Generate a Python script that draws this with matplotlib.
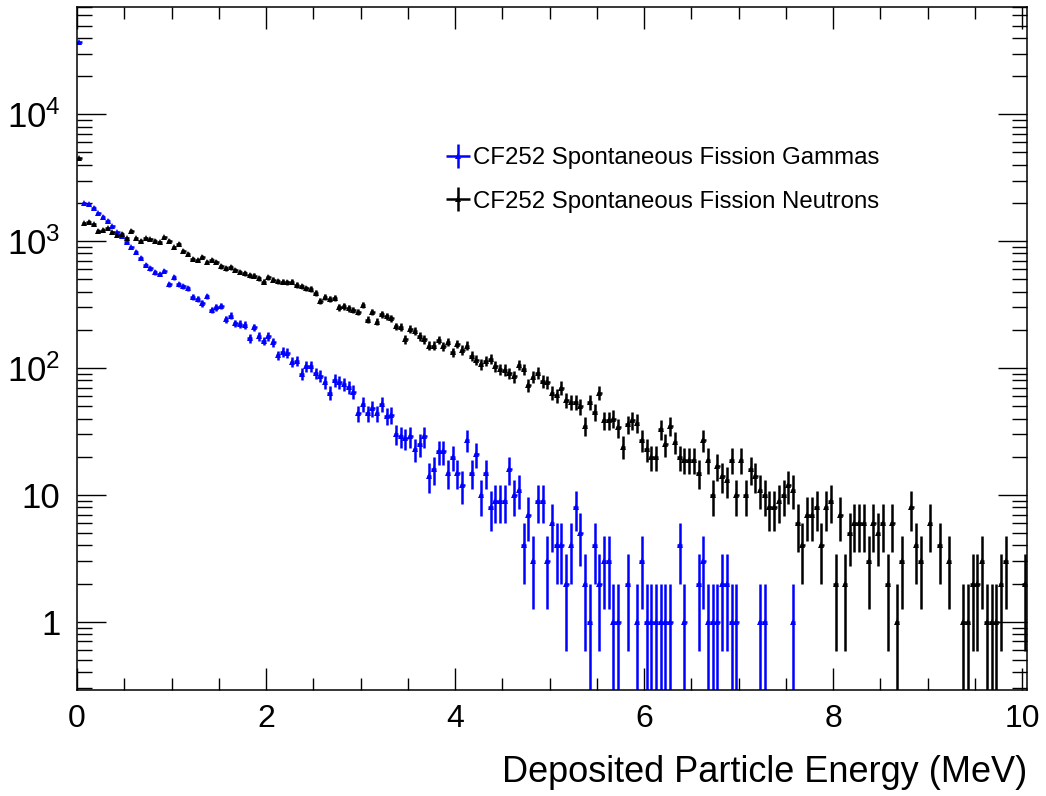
import numpy as np
import matplotlib
matplotlib.use("Agg")
import matplotlib.pyplot as plt
from matplotlib.ticker import FixedLocator, MultipleLocator, LogLocator, NullFormatter, FuncFormatter

plt.rcParams["font.family"] = ["Liberation Sans", "DejaVu Sans"]
plt.rcParams["mathtext.fontset"] = "custom"
plt.rcParams["mathtext.rm"] = "Liberation Sans"
plt.rcParams["mathtext.it"] = "Liberation Sans:italic"

# Histogram binning (MeV)
bin_width = 0.05
n_bins = 201

# Counts per bin, Cf-252 spontaneous fission gammas
gamma_counts = [
    37000, 1980, 1950, 1840, 1660, 1560, 1445, 1306, 1172, 1100,
    977, 892, 815, 731, 647, 610, 567, 550, 584, 458,
    518, 458, 440, 424, 361, 349, 323, 367, 288, 301,
    310, 243, 258, 226, 222, 218, 171, 209, 178, 164,
    178, 159, 126, 134, 132, 112, 114, 90, 104, 103,
    91, 87, 77, 64, 80, 77, 75, 71, 65, 44,
    52, 44, 48, 44, 52, 42, 43, 30, 29, 28,
    29, 23, 25, 29, 14, 16, 22, 22, 15, 20,
    15, 12, 27, 15, 21, 10, 15, 8, 9, 9,
    9, 16, 10, 11, 4, 7, 3, 9, 9, 3,
    6, 4, 4, 2, 4, 8, 5, 2, 1, 4,
    2, 3, 3, 1, 1, 0, 2, 0, 1, 3,
    1, 1, 1, 1, 1, 1, 0, 4, 1, 0,
    0, 2, 3, 1, 1, 1, 2, 2, 1, 1,
    0, 0, 0, 0, 1, 1, 0, 0, 0, 0,
    0, 1, 0, 0, 0, 0, 0, 0, 0, 0,
    0, 0, 0, 0, 0, 0, 0, 0, 0, 0,
    0, 0, 0, 0, 0, 0, 0, 0, 0, 0,
    0, 0, 0, 0, 0, 0, 0, 0, 0, 0,
    0, 0, 0, 0, 0, 0, 0, 0, 0, 0,
    0,
]

# Counts per bin, Cf-252 spontaneous fission neutrons
neutron_counts = [
    4500, 1378, 1420, 1361, 1205, 1230, 1260, 1172, 1115, 1140,
    1050, 1205, 1050, 1005, 1050, 1030, 1005, 977, 1070, 1005,
    892, 946, 839, 790, 722, 715, 745, 687, 715, 687,
    632, 610, 620, 594, 573, 559, 540, 533, 508, 478,
    518, 495, 484, 478, 472, 478, 451, 440, 424, 419,
    390, 339, 361, 349, 354, 301, 306, 295, 288, 277,
    313, 240, 277, 232, 266, 255, 246, 213, 212, 169,
    204, 197, 178, 169, 150, 150, 167, 148, 161, 133,
    155, 139, 150, 125, 116, 107, 114, 118, 104, 98,
    97, 91, 86, 106, 98, 73, 85, 92, 79, 77,
    64, 61, 70, 56, 54, 54, 50, 35, 54, 45,
    64, 39, 39, 40, 34, 24, 36, 39, 37, 27,
    23, 20, 20, 33, 25, 35, 26, 20, 19, 19,
    19, 15, 27, 19, 10, 17, 14, 13, 19, 10,
    19, 10, 16, 14, 11, 10, 8, 8, 9, 10,
    12, 11, 6, 4, 7, 7, 8, 4, 8, 9,
    2, 7, 2, 5, 6, 6, 6, 3, 6, 5,
    6, 2, 6, 1, 3, 0, 8, 4, 3, 0,
    6, 0, 4, 0, 3, 0, 0, 1, 1, 2,
    2, 3, 1, 1, 1, 2, 3, 0, 0, 0,
    2,
]

gamma_label = "CF252 Spontaneous Fission Gammas"
neutron_label = "CF252 Spontaneous Fission Neutrons"
x_title = "Deposited Particle Energy (MeV)"

energy = 0.025 + bin_width * np.arange(n_bins)

W, H = 1046, 796
fig = plt.figure(figsize=(W / 100, H / 100), dpi=100)
ax = fig.add_axes([77 / W, 1 - 690 / H, 950 / W, 683 / H])


def draw_hist(counts, color, label):
    c = np.asarray(counts, dtype=float)
    keep = c > 0
    x = energy[keep]
    y = c[keep]
    err = np.sqrt(y)
    lower = np.minimum(err, y - 1e-4)
    return ax.errorbar(x, y, yerr=[lower, err], xerr=bin_width / 2,
                       fmt="^", color=color, ms=4.8, mew=0,
                       elinewidth=1.8, capsize=0, label=label)


h_g = draw_hist(gamma_counts, "#0000ff", gamma_label)
h_n = draw_hist(neutron_counts, "black", neutron_label)

ax.set_yscale("log")
ax.set_xlim(0, 10.05)
ax.set_ylim(0.29, 7.0e4)

ax.xaxis.set_major_locator(MultipleLocator(2))
ax.xaxis.set_minor_locator(MultipleLocator(0.5))
ax.yaxis.set_major_locator(FixedLocator([1, 10, 100, 1000, 10000]))
ax.yaxis.set_minor_locator(LogLocator(base=10, subs=np.arange(2, 10)))
ax.yaxis.set_minor_formatter(NullFormatter())


def ylab(v, pos):
    if v < 5:
        return "1"
    if v < 50:
        return "10"
    return r"$10^{%d}$" % int(round(np.log10(v)))


ax.yaxis.set_major_formatter(FuncFormatter(ylab))

ax.tick_params(which="both", direction="in", top=True, right=True, width=1.0)
ax.tick_params(axis="x", which="major", length=16, pad=10, labelsize=23)
ax.tick_params(axis="x", which="minor", length=8.5)
ax.tick_params(axis="y", which="major", length=21, pad=12, labelsize=25)
ax.tick_params(axis="y", which="minor", length=11)
for s in ax.spines.values():
    s.set_linewidth(1.1)

fig.text(1027 / W, 1 - 773 / H, x_title, ha="right", va="center", fontsize=26)

ax.legend(handles=[h_g, h_n], labels=[gamma_label, neutron_label],
          loc="upper left", bbox_to_anchor=((445 - 77) / 950, 1 - (147 - 7) / 683),
          frameon=False, fontsize=17.3, handlelength=1.05, handletextpad=0.12,
          labelspacing=0.9, borderpad=0, borderaxespad=0)

fig.savefig("out.png", dpi=100)
